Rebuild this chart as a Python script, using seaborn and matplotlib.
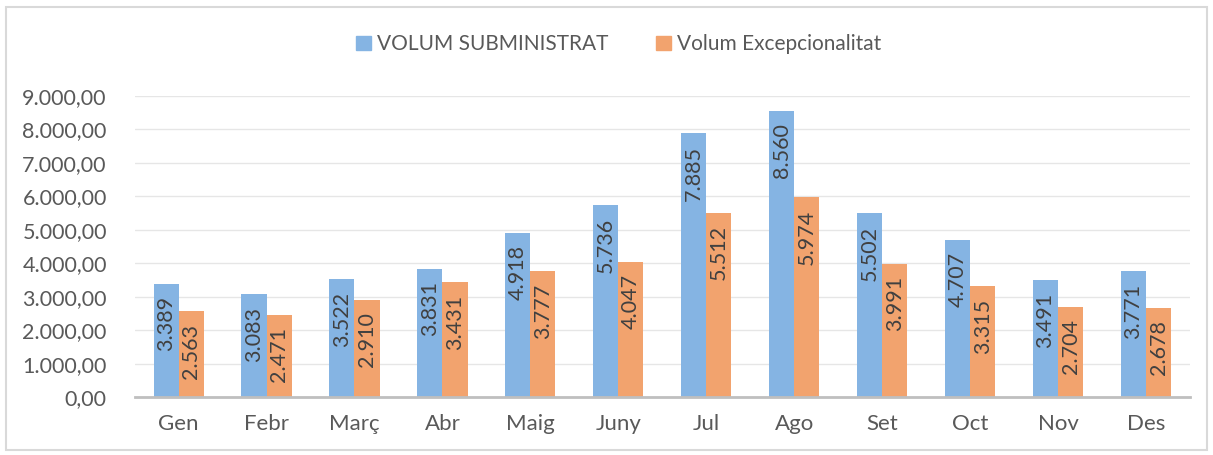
import pandas as pd
import seaborn as sns
import matplotlib.pyplot as plt
from matplotlib.patches import Rectangle
from matplotlib.ticker import FuncFormatter

# =========================
# Data
# =========================
mesos = ["Gen", "Febr", "Març", "Abr", "Maig", "Juny", "Jul", "Ago", "Set", "Oct", "Nov", "Des"]
volum_subministrat = [3389, 3083, 3522, 3831, 4918, 5736, 7885, 8560, 5502, 4707, 3491, 3771]
volum_excepcionalitat = [2563, 2471, 2910, 3431, 3777, 4047, 5512, 5974, 3991, 3315, 2704, 2678]
series = ["VOLUM SUBMINISTRAT", "Volum Excepcionalitat"]

df = pd.DataFrame({
    "mes": mesos * 2,
    "volum": volum_subministrat + volum_excepcionalitat,
    "serie": [series[0]] * len(mesos) + [series[1]] * len(mesos),
})


def format_ca(v, decimals=2):
    s = f"{v:,.{decimals}f}"
    return s.replace(",", "X").replace(".", ",").replace("X", ".")


# =========================
# Plot
# =========================
sns.set_theme(style="white")
plt.rcParams["font.family"] = ["Lato", "DejaVu Sans"]
text_color = "#595959"

fig = plt.figure(figsize=(12.13, 4.55), dpi=100)
ax = fig.add_axes([0.111, 0.127, 0.870, 0.662])

sns.barplot(data=df, x="mes", y="volum", hue="serie",
            palette=["#85B4E3", "#F2A36E"], saturation=1, width=0.57,
            linewidth=0, ax=ax)

# labels inside the top of each bar, rotated
for cont in ax.containers:
    for b in cont:
        h = b.get_height()
        ax.annotate(format_ca(h, 0), (b.get_x() + b.get_width() / 2, h),
                    xytext=(0, -9), textcoords="offset points",
                    ha="center", va="top", rotation=90, fontsize=15.5, color="#404040")

ax.set_ylim(0, 9000)
ax.set_yticks(range(0, 9001, 1000))
ax.yaxis.set_major_formatter(FuncFormatter(lambda v, p: format_ca(v)))
ax.yaxis.grid(True, color="#E6E6E6", lw=1)
ax.set_axisbelow(True)
ax.set_xlabel("")
ax.set_ylabel("")
ax.tick_params(axis="y", labelsize=15.5, labelcolor=text_color, length=0, pad=20)
ax.tick_params(axis="x", labelsize=16, labelcolor=text_color, length=0, pad=12)
for side in ["top", "right", "left"]:
    ax.spines[side].set_visible(False)
ax.spines["bottom"].set_color("#BFBFBF")
ax.spines["bottom"].set_linewidth(2)

ax.legend_.remove()
handles = [Rectangle((0, 0), 1, 1, color=c) for c in ["#85B4E3", "#F2A36E"]]
fig.legend(handles, series, loc="center", bbox_to_anchor=(0.51, 0.903), ncol=2,
           frameon=False, fontsize=15, labelcolor=text_color,
           handlelength=0.7, handleheight=0.7, handletextpad=0.3, columnspacing=2.3)

fig.patches.append(Rectangle((0.005, 0.01), 0.99, 0.975, transform=fig.transFigure,
                             fill=False, edgecolor="#D9D9D9", lw=1.5))

plt.savefig("out.png", dpi=100)
